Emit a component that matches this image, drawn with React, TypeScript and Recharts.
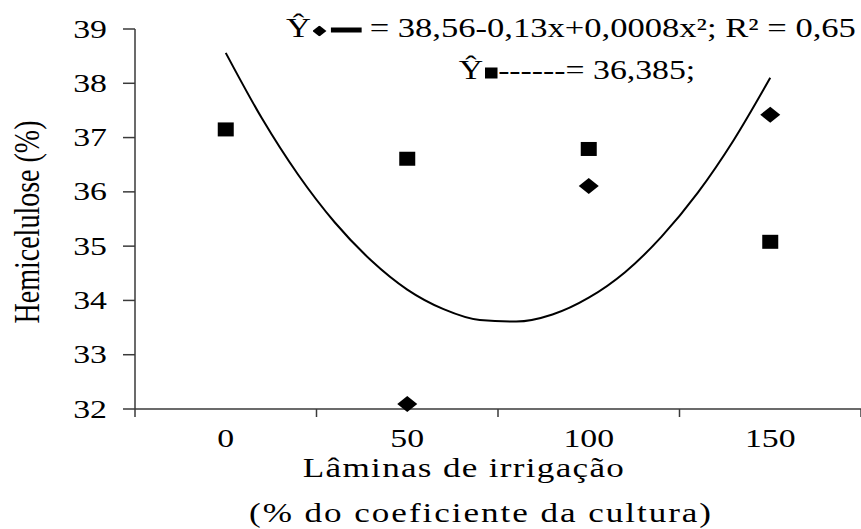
import React from 'react';
import { ComposedChart, Line, Scatter, XAxis, YAxis } from 'recharts';

// irrigation levels (% of crop coefficient)
const levels = [0, 50, 100, 150];
// ◆ series (fitted by the quadratic); the 0 point is hidden under the square
const diamondLevels = [50, 100, 150];
const diamondValues = [32.09, 36.11, 37.42];
// ■ series (mean = 36,385)
const squareValues = [37.15, 36.61, 36.79, 35.08];
// fitted curve
const curveLevels = [0, 10, 20, 30, 40, 50, 60, 70, 80, 90, 100, 110, 120, 130, 140, 150];
const curveValues = [38.56, 37.35, 36.31, 35.44, 34.74, 34.2, 33.84, 33.64, 33.61, 33.74, 34.05, 34.52, 35.17, 35.98, 36.96, 38.1];
const yTicks = [32, 33, 34, 35, 36, 37, 38, 39];
const xTicks = [-25, 0, 25, 50, 75, 100, 125, 150, 175];
const xLabels = ['0', '50', '100', '150'];

const diamonds = diamondLevels.map((x, i) => ({ x, y: diamondValues[i] }));
const squares = levels.map((x, i) => ({ x, y: squareValues[i] }));
const curve = curveLevels.map((x, i) => ({ x, y: curveValues[i] }));

const serif = '"Liberation Serif", "Times New Roman", serif';
const stretch = 1.3;
const axisColor = '#3a3a3a';

const DiamondShape = (p: any) => {
  const { cx, cy } = p;
  return <polygon points={`${cx},${cy - 8} ${cx + 10},${cy} ${cx},${cy + 8} ${cx - 10},${cy}`} fill="#000" />;
};

const SquareShape = (p: any) => {
  const { cx, cy } = p;
  return <rect x={cx - 8} y={cy - 7} width={16} height={14} fill="#000" />;
};

const YTick = (p: any) => {
  const { x, y, payload } = p;
  return (
    <text
      transform={`translate(${x} ${y}) scale(${stretch} 1)`}
      textAnchor="end"
      dominantBaseline="central"
      fontFamily={serif}
      fontSize={26}
      fill="#000"
    >
      {payload.value}
    </text>
  );
};

// ticks marks sit between the labels, labels sit at 0, 50, 100, 150
const XTick = (p: any) => {
  const { x, y, payload } = p;
  const label = xLabels.find(l => Number(l) === payload.value);
  if (label === undefined) {
    return <line x1={x} x2={x} y1={y} y2={y + 8} stroke={axisColor} strokeWidth={1.5} />;
  }
  return (
    <text
      transform={`translate(${x} ${y + 29}) scale(${stretch} 1)`}
      textAnchor="middle"
      dominantBaseline="central"
      fontFamily={serif}
      fontSize={26}
      fill="#000"
    >
      {label}
    </text>
  );
};

const textBase: React.CSSProperties = {
  position: 'absolute',
  fontFamily: serif,
  color: '#000',
  whiteSpace: 'nowrap',
  lineHeight: 1,
};

export default function App() {
  return (
    <div style={{ position: 'absolute', left: 0, top: 0, width: 861, height: 529, background: '#fff' }}>
      <ComposedChart width={861} height={529} margin={{ top: 29, right: 0, left: 0, bottom: 90 }}>
        <XAxis
          type="number"
          dataKey="x"
          domain={[-25, 175]}
          ticks={xTicks}
          interval={0}
          tickLine={false}
          tickSize={0}
          tickMargin={0}
          tick={<XTick />}
          axisLine={{ stroke: axisColor, strokeWidth: 1.5 }}
          height={30}
        />
        <YAxis
          type="number"
          dataKey="y"
          domain={[32, 39]}
          ticks={yTicks}
          interval={0}
          width={135}
          tickSize={12}
          tickMargin={16}
          tick={<YTick />}
          tickLine={{ stroke: axisColor, strokeWidth: 1.5 }}
          axisLine={{ stroke: axisColor, strokeWidth: 1.5 }}
        />
        <Line
          data={curve}
          dataKey="y"
          type="monotone"
          stroke="#000"
          strokeWidth={2}
          dot={false}
          activeDot={false}
          isAnimationActive={false}
        />
        <Scatter data={diamonds} dataKey="y" shape={<DiamondShape />} isAnimationActive={false} />
        <Scatter data={squares} dataKey="y" shape={<SquareShape />} isAnimationActive={false} />
      </ComposedChart>

      <div style={{ ...textBase, left: 571, top: 28, fontSize: 27, transform: `translate(-50%, -50%) scaleX(1.28)` }}>
        Ŷ
        <span style={{ display: 'inline-block', width: 11, height: 11, background: '#000', clipPath: 'polygon(50% 0, 100% 50%, 50% 100%, 0 50%)', margin: '0 3px 0 1px' }} />
        <span style={{ display: 'inline-block', width: 24, height: 5, background: '#000', verticalAlign: 'middle' }} />
        {' = 38,56-0,13x+0,0008x²; R² = 0,65'}
      </div>
      <div style={{ ...textBase, left: 577, top: 70, fontSize: 27, transform: `translate(-50%, -50%) scaleX(1.25)` }}>
        Ŷ
        <span style={{ display: 'inline-block', width: 10, height: 11, background: '#000', margin: '0 1px' }} />
        {'------= 36,385;'}
      </div>

      <div style={{ ...textBase, left: 464, top: 468, fontSize: 27, letterSpacing: 1, transform: `translate(-50%, -50%) scaleX(${stretch})` }}>
        Lâminas de irrigação
      </div>
      <div style={{ ...textBase, left: 481, top: 513, fontSize: 27, letterSpacing: 1.5, transform: `translate(-50%, -50%) scaleX(${stretch})` }}>
        (% do coeficiente da cultura)
      </div>
      <div style={{ ...textBase, left: 27, top: 222, fontSize: 28, transform: `translate(-50%, -50%) scaleX(${stretch}) rotate(-90deg)` }}>
        Hemicelulose (%)
      </div>
    </div>
  );
}
